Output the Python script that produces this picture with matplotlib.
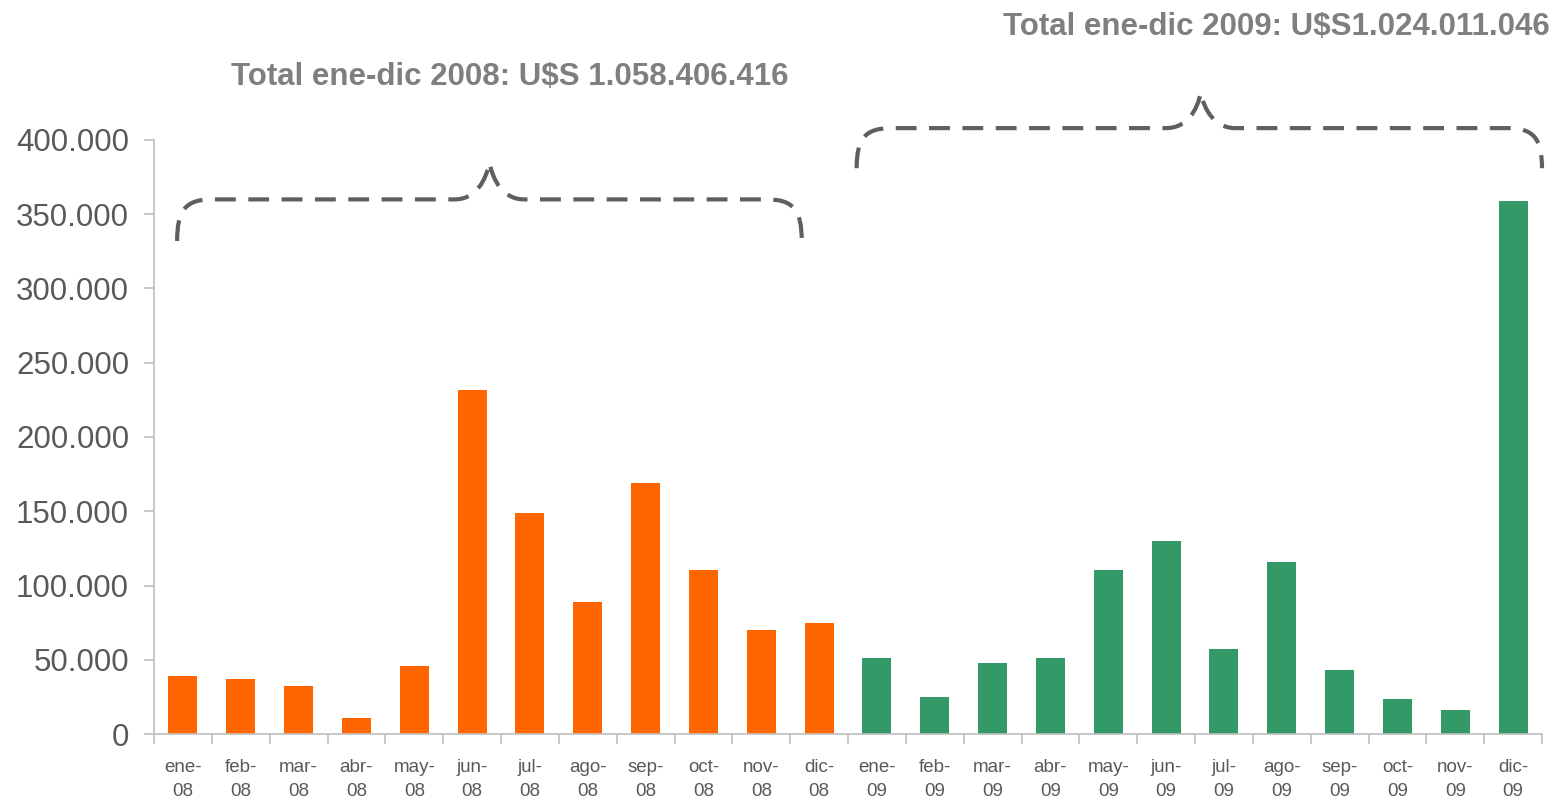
import numpy as np
import matplotlib
matplotlib.use("Agg")
import matplotlib.pyplot as plt
from matplotlib.path import Path
from matplotlib.patches import PathPatch

# monthly values (US$)
months = ["ene", "feb", "mar", "abr", "may", "jun", "jul", "ago", "sep", "oct", "nov", "dic"]
values_2008 = [39000, 37000, 32300, 10800, 45800, 231600, 148800, 88900, 169000, 110400, 70000, 74700]
values_2009 = [51200, 24900, 47800, 51200, 110400, 130000, 57200, 115800, 43100, 23600, 16200, 358900]
years = ["08", "09"]
yticks = [0, 50000, 100000, 150000, 200000, 250000, 300000, 350000, 400000]
title_2008 = "Total ene-dic 2008: U$S 1.058.406.416"
title_2009 = "Total ene-dic 2009: U$S1.024.011.046"

orange = "#FF6600"
green = "#339966"
axis_grey = "#BFBFBF"
text_grey = "#595959"

plt.rcParams['font.family'] = ['Liberation Sans', 'DejaVu Sans']

labels = [f"{m}-\n{y}" for y in years for m in months]
values = values_2008 + values_2009
colors = [orange] * len(values_2008) + [green] * len(values_2009)
x = np.arange(len(values))

fig = plt.figure(figsize=(15.56, 8.02), dpi=100)
ax = fig.add_axes([154 / 1556, 68 / 802, 1388 / 1556, 594 / 802])

ax.bar(x, values, width=0.5, color=colors, zorder=2)

ax.set_xlim(-0.5, len(values) - 0.5)
ax.set_ylim(0, 400000)

# y axis ticks with dotted thousands separator
ax.set_yticks(yticks)
ax.set_yticklabels([f"{v:,}".replace(",", ".") for v in yticks])
ax.tick_params(axis='y', direction='out', length=7, width=1.2, color=axis_grey,
               pad=11, labelsize=22.5, labelcolor=text_grey)

# x labels at bar centres, tick marks at category boundaries
ax.set_xticks(x)
ax.set_xticklabels(labels, linespacing=1.5)
ax.set_xticks(np.arange(len(values) + 1) - 0.5, minor=True)
ax.tick_params(axis='x', which='major', length=0, pad=18, labelsize=13.5, labelcolor=text_grey)
ax.tick_params(axis='x', which='minor', direction='out', length=7, width=1.2, color=axis_grey)

for side in ['top', 'right']:
    ax.spines[side].set_visible(False)
for side in ['left', 'bottom']:
    ax.spines[side].set_color(axis_grey)
    ax.spines[side].set_linewidth(1.2)


def brace(ax, x0, x1, xpk, yend, yflat, ypk, dx):
    # dashed curly brace opening downward, with its point at (xpk, ypk)
    verts = [
        (x0, yend),
        (x0, yflat - (yflat - yend) * 0.25), (x0 + dx * 0.25, yflat), (x0 + dx, yflat),
        (xpk - dx, yflat),
        (xpk - dx * 0.4, yflat), (xpk - dx * 0.1, ypk - (ypk - yflat) * 0.5), (xpk, ypk),
        (xpk + dx * 0.1, ypk - (ypk - yflat) * 0.5), (xpk + dx * 0.4, yflat), (xpk + dx, yflat),
        (x1 - dx, yflat),
        (x1 - dx * 0.25, yflat), (x1, yflat - (yflat - yend) * 0.25), (x1, yend),
    ]
    codes = [Path.MOVETO,
             Path.CURVE4, Path.CURVE4, Path.CURVE4,
             Path.LINETO,
             Path.CURVE4, Path.CURVE4, Path.CURVE4,
             Path.CURVE4, Path.CURVE4, Path.CURVE4,
             Path.LINETO,
             Path.CURVE4, Path.CURVE4, Path.CURVE4]
    patch = PathPatch(Path(verts, codes), facecolor='none', edgecolor="#5F5F5F",
                      linewidth=3, linestyle=(0, (5, 3)), clip_on=False, zorder=3)
    ax.add_patch(patch)


brace(ax, -0.1, 10.7, 5.3, 332000, 360000, 385000, 0.6)
brace(ax, 11.65, 23.5, 17.6, 381000, 408000, 432000, 0.6)

fig.text(510 / 1556, 1 - 77 / 802, title_2008, ha='center', va='center',
         fontsize=22.5, fontweight='bold', color="#7F7F7F")
fig.text(1550 / 1556, 1 - 27 / 802, title_2009, ha='right', va='center',
         fontsize=22.5, fontweight='bold', color="#7F7F7F")

fig.savefig("out.png", dpi=100, facecolor='white')
